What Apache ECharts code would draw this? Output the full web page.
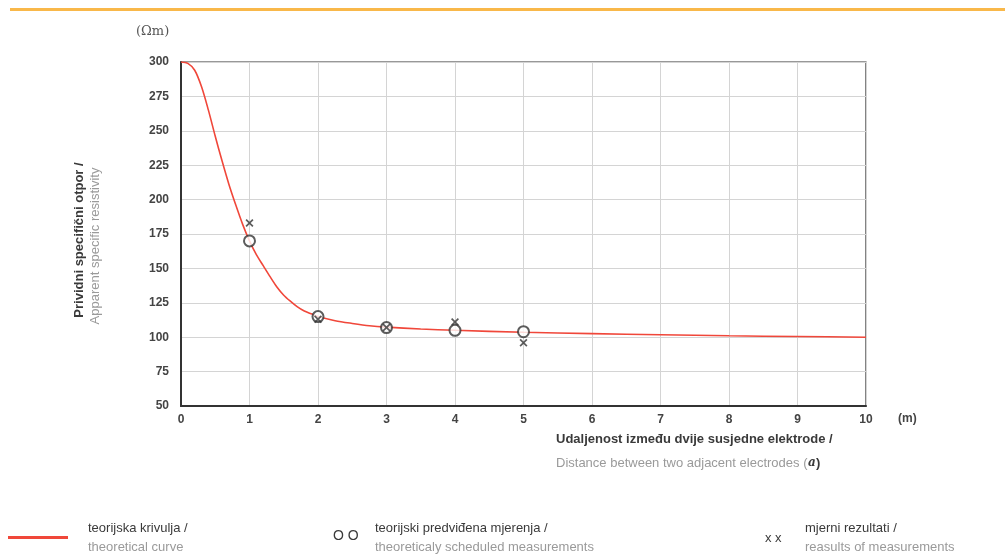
<!DOCTYPE html>
<html><head><meta charset="utf-8">
<script src="https://cdn.jsdelivr.net/npm/echarts@6/dist/echarts.min.js"></script>
<style>html,body{margin:0;padding:0;background:#fff}#c{width:1005px;height:555px}</style>
</head><body><div id="c"></div>
<script>
// Data
const curveX = [0, 0.1, 0.2, 0.3, 0.4, 0.5, 0.6, 0.7, 0.8, 0.9, 1.0, 1.1, 1.2, 1.3, 1.4, 1.5, 1.6, 1.7, 1.8, 1.9, 2.0, 2.25, 2.5, 2.75, 3, 3.5, 4, 5, 6, 7, 8, 9, 10];
const curveY = [300, 299, 294, 282, 265, 246, 228, 211, 196, 182, 170, 160, 152, 144, 136.5, 130.5, 126, 122, 119, 117, 115, 112, 110, 108.3, 107.3, 106, 105, 103.6, 102.6, 101.8, 101, 100.5, 100];
const measX = [1, 2, 3, 4, 5];
const scheduledY = [170, 115, 107, 105, 104];
const resultsY = [183, 113, 107, 111, 96];
const xTicks = [0, 1, 2, 3, 4, 5, 6, 7, 8, 9, 10];
const yTicks = [50, 75, 100, 125, 150, 175, 200, 225, 250, 275, 300];

const pair = (xs, ys) => xs.map((x, i) => [x, ys[i]]);
const crossPath = 'path://M0,1.5L1.5,0L5,3.5L8.5,0L10,1.5L6.5,5L10,8.5L8.5,10L5,6.5L1.5,10L0,8.5L3.5,5Z';
const dark = '#3a3a3a', grey = '#9a9a9a';
const narrow = '"Liberation Sans Narrow","Liberation Sans",Arial,sans-serif';

const chart = echarts.init(document.getElementById('c'));
chart.setOption({
  animation: false,
  grid: { left: 181, right: 139, top: 62, bottom: 149, show: true, borderColor: '#333', borderWidth: 1.2 },
  xAxis: {
    type: 'value', min: xTicks[0], max: xTicks[xTicks.length - 1], interval: 1,
    axisLine: { show: true, lineStyle: { color: '#333', width: 2 } },
    axisTick: { show: false },
    splitLine: { lineStyle: { color: '#d4d4d4', width: 1 } },
    axisLabel: { color: '#444', fontWeight: 'bold', fontSize: 12, margin: 8, fontFamily: 'Liberation Sans, Arial' }
  },
  yAxis: {
    type: 'value', min: yTicks[0], max: yTicks[yTicks.length - 1], interval: 25,
    axisLine: { show: true, lineStyle: { color: '#333', width: 2 } },
    axisTick: { show: false },
    splitLine: { lineStyle: { color: '#d4d4d4', width: 1 } },
    axisLabel: { color: '#444', fontWeight: 'bold', fontSize: 12, margin: 12, fontFamily: 'Liberation Sans, Arial' }
  },
  series: [
    { type: 'line', data: pair(curveX, curveY), smooth: 0.3, showSymbol: false,
      lineStyle: { color: '#f0473a', width: 1.6 }, z: 2 },
    { type: 'scatter', data: pair(measX, scheduledY), symbol: 'emptyCircle', symbolSize: 11,
      itemStyle: { color: '#333', borderColor: '#333', borderWidth: 1.6 }, z: 3 },
    { type: 'scatter', data: pair(measX, resultsY), symbol: crossPath, symbolSize: 8,
      itemStyle: { color: '#333' }, z: 4 }
  ],
  graphic: [
    { type: 'rect', shape: { x: 10, y: 8, width: 995, height: 3 }, style: { fill: '#f9b84a' } },
    { type: 'text', left: 136, top: 25, style: { text: '(Ωm)', fill: '#555', font: '13px "DejaVu Serif", serif' } },
    { type: 'text', left: 898, top: 413, style: { text: '(m)', fill: '#444', font: 'bold 12px "Liberation Sans", Arial' } },
    { type: 'text', left: 556, top: 433, style: { text: 'Udaljenost između dvije susjedne elektrode /', fill: dark, font: 'bold 13px "Liberation Sans", Arial' } },
    { type: 'text', left: 556, top: 457, style: { text: 'Distance between two adjacent electrodes (', fill: grey, font: '13px "Liberation Sans", Arial' } },
    { type: 'text', left: 808, top: 457, style: { text: 'a', fill: dark, font: 'italic bold 12px "DejaVu Serif", serif' } },
    { type: 'text', left: 816, top: 457, style: { text: ')', fill: dark, font: 'bold 13px "Liberation Sans", Arial' } },
    { type: 'text', x: 79, y: 240, rotation: Math.PI / 2, style: { text: 'Prividni specifični otpor /', fill: dark, font: 'bold 13px "Liberation Sans", Arial', align: 'center', verticalAlign: 'middle' } },
    { type: 'text', x: 95, y: 246, rotation: Math.PI / 2, style: { text: 'Apparent specific resistivity', fill: grey, font: '13px "Liberation Sans", Arial', align: 'center', verticalAlign: 'middle' } },
    // legend
    { type: 'rect', shape: { x: 8, y: 536, width: 60, height: 3 }, style: { fill: '#f0473a' } },
    { type: 'text', left: 88, top: 522, style: { text: 'teorijska krivulja /', fill: dark, font: '13px ' + narrow } },
    { type: 'text', left: 88, top: 541, style: { text: 'theoretical curve', fill: grey, font: '13px ' + narrow } },
    { type: 'text', left: 333, top: 529, style: { text: 'O O', fill: dark, font: '14px "Liberation Sans", Arial' } },
    { type: 'text', left: 375, top: 522, style: { text: 'teorijski predviđena mjerenja /', fill: dark, font: '13px ' + narrow } },
    { type: 'text', left: 375, top: 541, style: { text: 'theoreticaly scheduled measurements', fill: grey, font: '13px ' + narrow } },
    { type: 'text', left: 765, top: 532, style: { text: 'x x', fill: dark, font: '13px "Liberation Sans", Arial' } },
    { type: 'text', left: 805, top: 522, style: { text: 'mjerni rezultati /', fill: dark, font: '13px ' + narrow } },
    { type: 'text', left: 805, top: 541, style: { text: 'reasults of measurements', fill: grey, font: '13px ' + narrow } }
  ]
});
</script></body></html>
